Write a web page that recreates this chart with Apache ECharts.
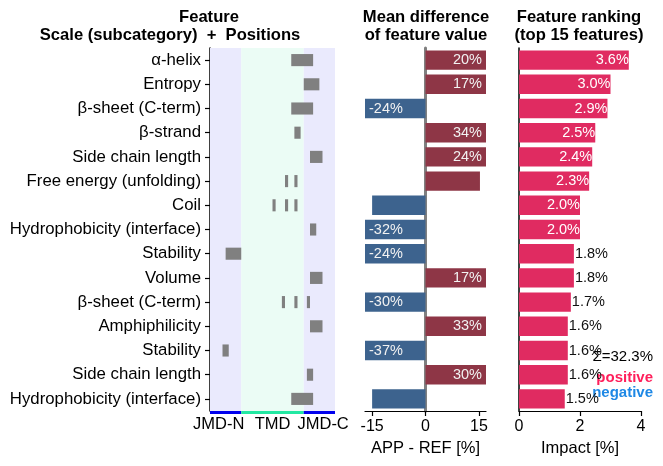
<!DOCTYPE html>
<html>
<head>
<meta charset="utf-8">
<script src="https://cdn.jsdelivr.net/npm/echarts@6/dist/echarts.min.js"></script>
<style>
  html, body { margin: 0; padding: 0; background: #fff; }
  #chart { width: 663px; height: 466px; }
</style>
</head>
<body>
<div id="chart"></div>
<script>
// feature names, top to bottom
const features = ['α-helix', 'Entropy', 'β-sheet (C-term)', 'β-strand', 'Side chain length',
  'Free energy (unfolding)', 'Coil', 'Hydrophobicity (interface)', 'Stability', 'Volume',
  'β-sheet (C-term)', 'Amphiphilicity', 'Stability', 'Side chain length', 'Hydrophobicity (interface)'];
// positions of each feature, [start, end) along the 40 residues
const positions = [
  [[26, 33]], [[30, 35]], [[26, 33]], [[27, 29]], [[32, 36]],
  [[24, 25], [27, 28]], [[20, 21], [24, 25], [27, 28]], [[32, 34]], [[5, 10]], [[32, 36]],
  [[23, 24], [27, 28], [31, 32]], [[32, 36]], [[4, 6]], [[31, 33]], [[26, 33]]
];
const regionNames = ['JMD-N', 'TMD', 'JMD-C'];
const regionLengths = [10, 20, 10];
const regionLabelPos = [2.8, 20, 36.2];
// mean difference APP - REF [%]
const meanDiff = [20, 17, -24, 34, 24, 15.3, -15, -32, -24, 17, -30, 33, -37, 30, -15];
const diffTicks = [-15, 0, 15];
// impact [%]
const impact = [3.6, 3.0, 2.9, 2.5, 2.4, 2.3, 2.0, 2.0, 1.8, 1.8, 1.7, 1.6, 1.6, 1.6, 1.5];

const font = "'Liberation Sans', Arial, sans-serif";
const diffMax = 17;
const rowIdx = features.map((f, i) => String(i));

let myChart = echarts.init(document.getElementById('chart'));

// background areas and bottom strip for the regions
let regionStart = [];
let acc = 0;
regionLengths.forEach(l => { regionStart.push(acc); acc += l; });
const total = acc;
const bgColors = ['#EAEAFD', '#EBFCF5', '#EAEAFD'];
const stripColors = ['#0000EE', '#22E8A2', '#0000EE'];

let segData = [];
positions.forEach((segs, row) => segs.forEach(s => segData.push([s[0], s[1], row])));

const impactSum = impact.reduce((a, b) => a + b, 0);

let stripSeries = regionLengths.map((l, i) => ({
  type: 'bar', xAxisIndex: 1, yAxisIndex: 1, stack: 'strip', barWidth: '100%',
  data: [l], itemStyle: { color: stripColors[i] }, silent: true
}));

const titleFont = 'bold 16.6px ' + font;

myChart.setOption({
  animation: false,
  textStyle: { fontFamily: font },
  grid: [
    { left: 210, top: 48, width: 125, height: 363 },
    { left: 210, top: 411, width: 125, height: 3 },
    { left: 365, top: 48, width: 121, height: 363 },
    { left: 519, top: 48, width: 122, height: 363 }
  ],
  xAxis: [
    { gridIndex: 0, type: 'value', min: 0, max: total, show: false },
    {
      gridIndex: 1, type: 'value', min: 0, max: total,
      axisLine: { show: false }, axisTick: { show: false }, splitLine: { show: false },
      axisLabel: {
        customValues: regionLabelPos, margin: 2, color: '#000', fontSize: 16.5, fontFamily: font,
        formatter: v => regionNames[regionLabelPos.indexOf(v)] || ''
      }
    },
    {
      gridIndex: 2, type: 'value', min: -diffMax, max: diffMax,
      axisLine: { show: true, lineStyle: { color: '#000', width: 1.2 } },
      axisTick: { show: true, customValues: diffTicks, length: 5, lineStyle: { color: '#000', width: 1.2 } },
      axisLabel: { customValues: diffTicks, color: '#000', fontSize: 16, margin: 8, fontFamily: font },
      splitLine: { show: false },
      name: 'APP - REF [%]', nameLocation: 'middle', nameGap: 28,
      nameTextStyle: { color: '#000', fontSize: 16.5, fontFamily: font }
    },
    {
      gridIndex: 3, type: 'value', min: 0, max: 4, interval: 2,
      axisLine: { show: true, lineStyle: { color: '#000', width: 1.2 } },
      axisTick: { show: true, length: 5, lineStyle: { color: '#000', width: 1.2 } },
      axisLabel: { color: '#000', fontSize: 16, margin: 8, fontFamily: font },
      splitLine: { show: false },
      name: 'Impact [%]', nameLocation: 'middle', nameGap: 28,
      nameTextStyle: { color: '#000', fontSize: 16.5, fontFamily: font }
    }
  ],
  yAxis: [
    {
      gridIndex: 0, type: 'category', data: rowIdx, inverse: true,
      axisLine: { show: true, lineStyle: { color: '#000', width: 1.5 } },
      axisTick: { show: true, alignWithLabel: true, length: 5, lineStyle: { color: '#000', width: 1.2 } },
      axisLabel: { color: '#000', fontSize: 16.8, margin: 9, fontFamily: font, formatter: (v, i) => features[i] }
    },
    { gridIndex: 1, type: 'category', data: ['s'], show: false },
    {
      gridIndex: 2, type: 'category', data: rowIdx, inverse: true,
      axisLine: { show: true, onZero: true, lineStyle: { color: '#808080', width: 3 } },
      axisTick: { show: false }, axisLabel: { show: false }
    },
    {
      gridIndex: 3, type: 'category', data: rowIdx, inverse: true,
      axisLine: { show: true, lineStyle: { color: '#000', width: 1.5 } },
      axisTick: { show: false }, axisLabel: { show: false }
    }
  ],
  series: [
    {
      type: 'scatter', xAxisIndex: 0, yAxisIndex: 0, data: [], silent: true,
      markArea: {
        silent: true,
        data: regionLengths.map((l, i) => [
          { xAxis: regionStart[i], itemStyle: { color: bgColors[i] } },
          { xAxis: regionStart[i] + l }
        ])
      }
    },
    {
      type: 'custom', xAxisIndex: 0, yAxisIndex: 0, data: segData,
      encode: { x: [0, 1], y: 2 },
      renderItem: function (params, api) {
        const p0 = api.coord([api.value(0), api.value(2)]);
        const p1 = api.coord([api.value(1), api.value(2)]);
        const h = api.size([0, 1])[1] * 0.5;
        return {
          type: 'rect',
          shape: { x: p0[0], y: p0[1] - h / 2, width: p1[0] - p0[0], height: h },
          style: { fill: '#808080' }
        };
      }
    },
    ...stripSeries,
    {
      type: 'bar', xAxisIndex: 2, yAxisIndex: 2, barWidth: '80%',
      data: meanDiff.map(v => ({
        value: Math.max(-diffMax, Math.min(diffMax, v)),
        itemStyle: { color: v > 0 ? '#8E3646' : '#3D638E' },
        label: {
          show: Math.abs(v) >= diffMax,
          position: v > 0 ? 'insideRight' : 'insideLeft',
          formatter: v + '%'
        }
      })),
      label: { color: '#F2F2F2', fontSize: 14.5, fontFamily: font, distance: 4 }
    },
    {
      type: 'bar', xAxisIndex: 3, yAxisIndex: 3, barWidth: '80%',
      itemStyle: { color: '#E02B61' },
      data: impact.map(v => ({
        value: v,
        label: v >= 2
          ? { position: 'insideRight', color: '#fff', distance: 0 }
          : { position: 'right', color: '#111', distance: 1 }
      })),
      label: { show: true, fontSize: 14.5, fontFamily: font, formatter: p => p.value.toFixed(1) + '%' }
    }
  ],
  graphic: [
    { type: 'text', x: 209, y: 17, style: { text: 'Feature', textAlign: 'center', textVerticalAlign: 'middle', font: titleFont, fill: '#000' } },
    { type: 'text', x: 170, y: 35, style: { text: 'Scale (subcategory)  +  Positions', textAlign: 'center', textVerticalAlign: 'middle', font: titleFont, fill: '#000' } },
    { type: 'text', x: 426, y: 17, style: { text: 'Mean difference', textAlign: 'center', textVerticalAlign: 'middle', font: titleFont, fill: '#000' } },
    { type: 'text', x: 426, y: 35, style: { text: 'of feature value', textAlign: 'center', textVerticalAlign: 'middle', font: titleFont, fill: '#000' } },
    { type: 'text', x: 579, y: 17, style: { text: 'Feature ranking', textAlign: 'center', textVerticalAlign: 'middle', font: titleFont, fill: '#000' } },
    { type: 'text', x: 579, y: 35, style: { text: '(top 15 features)', textAlign: 'center', textVerticalAlign: 'middle', font: titleFont, fill: '#000' } },
    { type: 'text', x: 653, y: 357, style: { text: 'Σ=' + impactSum.toFixed(1) + '%', textAlign: 'right', textVerticalAlign: 'middle', font: '15px ' + font, fill: '#000' } },
    { type: 'text', x: 653, y: 378, style: { text: 'positive', textAlign: 'right', textVerticalAlign: 'middle', font: 'bold 15px ' + font, fill: '#FF1F5B' } },
    { type: 'text', x: 653, y: 393, style: { text: 'negative', textAlign: 'right', textVerticalAlign: 'middle', font: 'bold 15px ' + font, fill: '#1E88E5' } }
  ]
});
</script>
</body>
</html>
